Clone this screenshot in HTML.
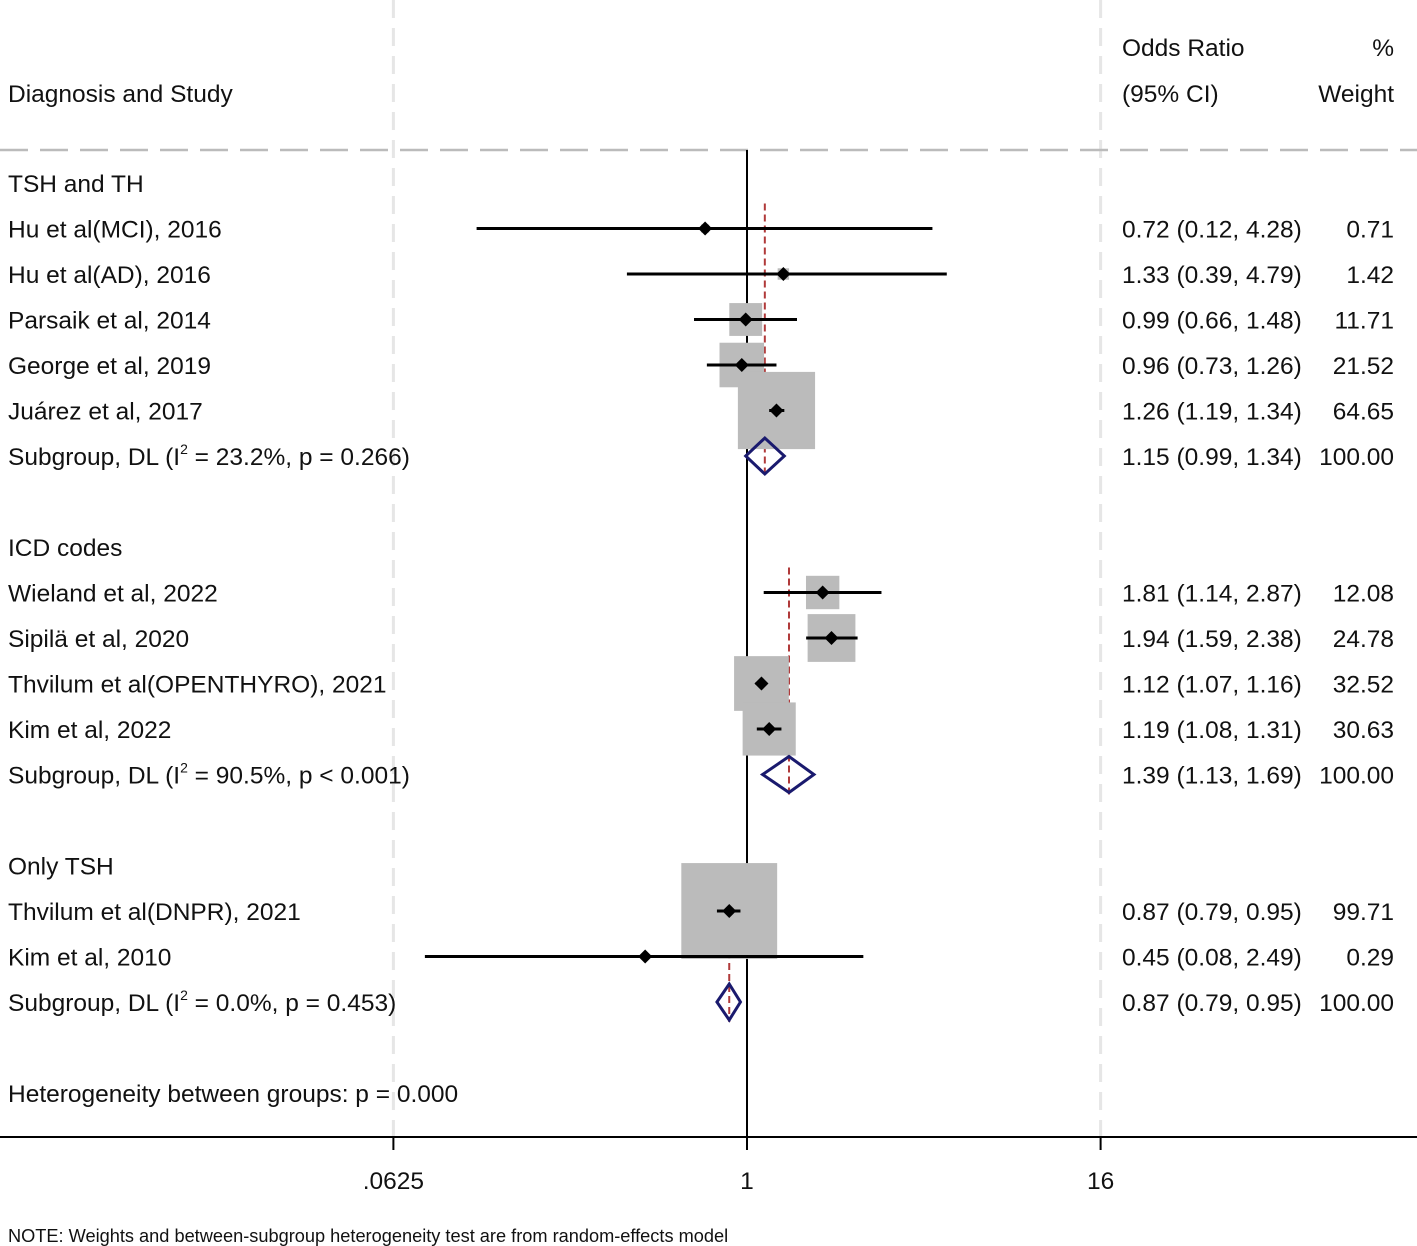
<!DOCTYPE html>
<html><head><meta charset="utf-8">
<style>
html,body{margin:0;padding:0;background:#fff;}
svg{display:block;font-family:"Liberation Sans",Arial,sans-serif;}
</style></head>
<body>
<svg id="chart" width="1417" height="1246" viewBox="0 0 1417 1246" xmlns="http://www.w3.org/2000/svg">
<g id="grid"></g>
<g id="marks"></g>
<g id="texts" font-size="24.5" fill="#111"></g>
</svg>
<script>
const labels = ["Hu et al(MCI), 2016","Hu et al(AD), 2016","Parsaik et al, 2014","George et al, 2019","Juárez et al, 2017",
"Wieland et al, 2022","Sipilä et al, 2020","Thvilum et al(OPENTHYRO), 2021","Kim et al, 2022",
"Thvilum et al(DNPR), 2021","Kim et al, 2010"];
const orVals = [0.72,1.33,0.99,0.96,1.26,1.81,1.94,1.12,1.19,0.87,0.45];
const loVals = [0.12,0.39,0.66,0.73,1.19,1.14,1.59,1.07,1.08,0.79,0.08];
const hiVals = [4.28,4.79,1.48,1.26,1.34,2.87,2.38,1.16,1.31,0.95,2.49];
const weights = [0.71,1.42,11.71,21.52,64.65,12.08,24.78,32.52,30.63,99.71,0.29];
const rowIdx = [1,2,3,4,5,9,10,11,12,16,17];
const groupNames = ["TSH and TH","ICD codes","Only TSH"];
const groupRows = [0,8,15];
const subLabels = ["Subgroup, DL (I|2| = 23.2%, p = 0.266)","Subgroup, DL (I|2| = 90.5%, p < 0.001)","Subgroup, DL (I|2| = 0.0%, p = 0.453)"];
const subOR = [1.15,1.39,0.87];
const subLo = [0.99,1.13,0.79];
const subHi = [1.34,1.69,0.95];
const subRowIdx = [6,13,18];
const tickVals = [0.0625,1,16];
const tickLabels = [".0625","1","16"];

const NS="http://www.w3.org/2000/svg";
const X = v => 747 + Math.log2(v)*88.4;
const Y = r => 183 + r*45.5;
function el(tag, attrs, parent, name, txt){
  const e=document.createElementNS(NS,tag);
  for(const k in attrs) e.setAttribute(k,attrs[k]);
  
  
  if(txt!==undefined) e.textContent=txt;
  parent.appendChild(e); return e;
}
const grid=document.getElementById('grid'), marks=document.getElementById('marks'), texts=document.getElementById('texts');
[0.0625,16].forEach(v=>el('line',{x1:X(v),x2:X(v),y1:0,y2:1137,stroke:'#e6e6e6','stroke-width':3,'stroke-dasharray':'18,10'},grid,'ref-gridline'));
el('line',{x1:0,x2:1417,y1:150,y2:150,stroke:'#bbb','stroke-width':2.5,'stroke-dasharray':'28,12'},grid,'header-divider');
el('line',{x1:X(1),x2:X(1),y1:150,y2:1137,stroke:'#000','stroke-width':2},grid,'null-line');
el('line',{x1:0,x2:1417,y1:1137,y2:1137,stroke:'#000','stroke-width':2},grid,'x-axis');
tickVals.forEach((v,i)=>{
  el('line',{x1:X(v),x2:X(v),y1:1137,y2:1150,stroke:'#000','stroke-width':2},grid,'x-tick');
  el('text',{x:X(v),y:1189,'text-anchor':'middle'},texts,'x-tick-label',tickLabels[i]);
});
const groupSpans=[[0,5],[5,9],[9,11]];
groupSpans.forEach((s,g)=>{
  const y1=Y(rowIdx[s[0]])-25, y2=Y(subRowIdx[g])+20;
  el('line',{x1:X(subOR[g]),x2:X(subOR[g]),y1:y1,y2:y2,stroke:'#b03a3a','stroke-width':2,'stroke-dasharray':'7,4'},marks,'pooled-estimate-line');
});
orVals.forEach((o,i)=>{
  const y=Y(rowIdx[i]), s=9.6*Math.sqrt(weights[i]);
  el('rect',{x:X(o)-s/2,y:y-s/2,width:s,height:s,fill:'#bbb'},marks,'weight-box');
});
orVals.forEach((o,i)=>{
  const y=Y(rowIdx[i]), cx=X(o);
  el('line',{x1:X(loVals[i]),x2:X(hiVals[i]),y1:y,y2:y,stroke:'#000','stroke-width':3},marks,'ci-line');
  el('path',{d:`M${cx-7},${y}L${cx},${y-7}L${cx+7},${y}L${cx},${y+7}Z`,fill:'#000'},marks,'point-estimate');
  el('text',{x:8,y:y+9},texts,'study-label',labels[i]);
  el('text',{x:1122,y:y+9},texts,'or-ci-text',`${o.toFixed(2)} (${loVals[i].toFixed(2)}, ${hiVals[i].toFixed(2)})`);
  el('text',{x:1394,y:y+9,'text-anchor':'end'},texts,'weight-text',weights[i].toFixed(2));
});
subOR.forEach((o,g)=>{
  const y=Y(subRowIdx[g]), h=18;
  el('path',{d:`M${X(subLo[g])},${y}L${X(o)},${y-h}L${X(subHi[g])},${y}L${X(o)},${y+h}Z`,fill:'none',stroke:'#1a1a6e','stroke-width':3},marks,'subgroup-diamond');
  const parts=subLabels[g].split('|');
  const t=el('text',{x:8,y:y+9},texts,'subgroup-label');
  const a=document.createElementNS(NS,'tspan');a.textContent=parts[0];t.appendChild(a);
  const b=document.createElementNS(NS,'tspan');b.textContent=parts[1];b.setAttribute('font-size','14');b.setAttribute('dy','-11');t.appendChild(b);
  const c=document.createElementNS(NS,'tspan');c.textContent=parts[2];c.setAttribute('dy','11');t.appendChild(c);
  el('text',{x:1122,y:y+9},texts,'subgroup-or-text',`${o.toFixed(2)} (${subLo[g].toFixed(2)}, ${subHi[g].toFixed(2)})`);
  el('text',{x:1394,y:y+9,'text-anchor':'end'},texts,'subgroup-weight','100.00');
});
groupNames.forEach((n,g)=>el('text',{x:8,y:Y(groupRows[g])+9},texts,'group-heading',n));
el('text',{x:8,y:1102},texts,'heterogeneity-text','Heterogeneity between groups: p = 0.000');
el('text',{x:8,y:102},texts,'column-header-study','Diagnosis and Study');
el('text',{x:1122,y:56},texts,'column-header-or','Odds Ratio');
el('text',{x:1122,y:102},texts,'column-header-ci','(95% CI)');
el('text',{x:1394,y:56,'text-anchor':'end'},texts,'column-header-pct','%');
el('text',{x:1394,y:102,'text-anchor':'end'},texts,'column-header-weight','Weight');
el('text',{x:8,y:1242,'font-size':18.2},texts,'footnote','NOTE: Weights and between-subgroup heterogeneity test are from random-effects model');
</script>
</body></html>
